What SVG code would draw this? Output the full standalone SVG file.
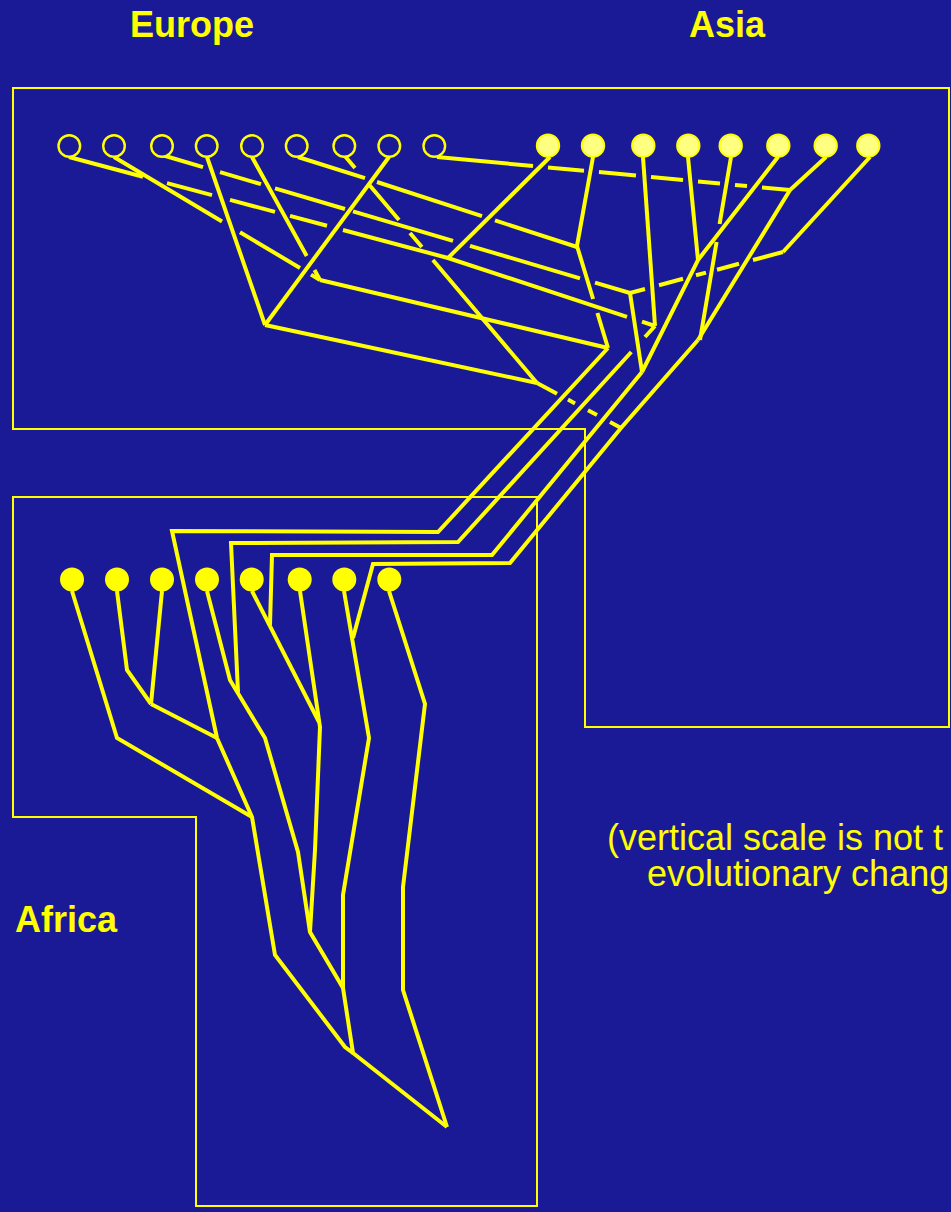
<svg xmlns="http://www.w3.org/2000/svg" width="951" height="1212" viewBox="0 0 951 1212">
  <style>
    .ln { fill: none; stroke: #ffff00; stroke-width: 4; stroke-linejoin: miter; stroke-miterlimit: 10; stroke-linecap: butt; }
    .box { fill: none; stroke: #ffff00; stroke-width: 2; }
    .eu { fill: #1a1996; stroke: #ffff00; stroke-width: 2.4; }
    .as { fill: #ffff80; stroke: #ffff00; stroke-width: 2; }
    .af { fill: #ffff00; stroke: none; }
    .lbl { font-family: "Liberation Sans", Arial, sans-serif; font-size: 36px; fill: #ffff00; }
    .bold { font-weight: bold; }
  </style>

  <rect x="0" y="0" width="951" height="1212" fill="#1a1996"/>

  <!-- region outlines -->
  <g id="regions">
    <path class="box" d="M13,88 H949 V727 H585 V429 H13 Z"/>
    <path class="box" d="M13,497 H537 V1206 H196 V817 H13 Z"/>
  </g>

  <!-- region labels and note -->
  <g id="labels">
    <text class="lbl bold" x="192" y="37" text-anchor="middle">Europe</text>
    <text class="lbl bold" x="727" y="37" text-anchor="middle">Asia</text>
    <text class="lbl bold" x="15" y="932">Africa</text>
    <text class="lbl" x="607" y="850">(vertical scale is not t</text>
    <text class="lbl" x="647" y="886">evolutionary chang</text>
  </g>

  <!-- lineages; broken runs pass behind the lines they cross -->
  <g id="connectors">
    <!-- European lineages -->
    <path class="ln" d="M69,157 L143,176.7 M167,183.1 L212,195.1 M230,199.9 L275,211.9 M290,215.9 L327,225.8 M343,230 L448,258 L627,316.8 M642,321.7 L655,326"/>
    <path class="ln" d="M114,157 L222,221.5 M240,232.2 L300,268 M311,274.6 L320,280"/>
    <path class="ln" d="M162,155 L203,167.1 M220,172.1 L261,184.2 M275,188.3 L345,209 M353,211.3 L453,240.8 M470,245.8 L580,278.3 M595,282.7 L630,293"/>
    <path class="ln" d="M207,157 L265,325"/>
    <path class="ln" d="M252,157 L306.7,256 M314.5,270 L320,280"/>
    <path class="ln" d="M298,157 L365,178.1 M377,182 L482,216.1 M495,220.4 L577,247"/>
    <path class="ln" d="M344,155 L355,168 M369.4,185 L399,220 M410,233 L421.9,247 M432.9,260 L537,383"/>
    <path class="ln" d="M389,157 L265,325"/>
    <path class="ln" d="M437,157 L533,166 M548,167.4 L584,170.7 M599,172.1 L636,175.6 M651,177 L683,180 M698,181.4 L720,183.5 M735,184.9 L747,186 M762,187.4 L790,190"/>
    <path class="ln" d="M265,325 L537,383"/>
    <path class="ln" d="M320,280 L608,348"/>

    <!-- Asian lineages -->
    <path class="ln" d="M550,157 L448,258"/>
    <path class="ln" d="M593,157 L577,246 L593.1,299 M597.4,313 L608,348"/>
    <path class="ln" d="M643,157 L655,326"/>
    <path class="ln" d="M688,157 L698,260"/>
    <path class="ln" d="M731,157 L719.6,224 M716.6,242 L700,340"/>
    <path class="ln" d="M778,157 L698,260 L642,372"/>
    <path class="ln" d="M826,157 L790,190 L698,340"/>
    <path class="ln" d="M870,157 L783,252"/>
    <path class="ln" d="M783,252 L753,260 M739,263.8 L717,269.7 M706,272.6 L696,275.3 M683,278.8 L659,285.2 M645,289 L630,293"/>
    <path class="ln" d="M630,293 L642,372"/>
    <path class="ln" d="M537,383 L557,393.7 M568,399.6 L575,403.4 M588,410.3 L597,415.1 M610,422.1 L621,428"/>

    <!-- migrations into Africa -->
    <path class="ln" d="M608,348 L438,532 L172,531 L217,738"/>
    <path class="ln" d="M655,326 L645,337 M631.3,352 L458,542 L231,543 L238,692"/>
    <path class="ln" d="M642,372 L492,555 L272,555 L270,625"/>
    <path class="ln" d="M698,340 L621,428 L510,563 L373,564 L353,638"/>

    <!-- African lineages -->
    <path class="ln" d="M72,591 L117,738 L252,817"/>
    <path class="ln" d="M117,591 L127,670 L151,704"/>
    <path class="ln" d="M162,591 L151,704"/>
    <path class="ln" d="M151,704 L217,738"/>
    <path class="ln" d="M217,738 L252,817 L275,955 L345,1047 L353,1053"/>
    <path class="ln" d="M207,591 L230,680 L265,738 L298,852 L310,932 L343,988 L353,1053 L447,1127"/>
    <path class="ln" d="M252,591 L319,722"/>
    <path class="ln" d="M300,591 L320,727 L315,850 L310,932"/>
    <path class="ln" d="M344,591 L369,738 L343,895 L343,988"/>
    <path class="ln" d="M389,591 L425,704 L403,887 L403,990 L447,1127"/>
  </g>

  <!-- European samples -->
  <g id="europe">
    <g id="eu1"><circle class="eu" cx="69.3" cy="146" r="10.8"/></g>
    <g id="eu2"><circle class="eu" cx="114" cy="146" r="10.8"/></g>
    <g id="eu3"><circle class="eu" cx="162" cy="146" r="10.8"/></g>
    <g id="eu4"><circle class="eu" cx="206.7" cy="146" r="10.8"/></g>
    <g id="eu5"><circle class="eu" cx="252" cy="146" r="10.8"/></g>
    <g id="eu6"><circle class="eu" cx="296.7" cy="146" r="10.8"/></g>
    <g id="eu7"><circle class="eu" cx="344.3" cy="146" r="10.8"/></g>
    <g id="eu8"><circle class="eu" cx="389.3" cy="146" r="10.8"/></g>
    <g id="eu9"><circle class="eu" cx="434.3" cy="146" r="10.8"/></g>
  </g>

  <!-- Asian samples -->
  <g id="asia">
    <g id="as1"><circle class="as" cx="548" cy="145.7" r="11.2"/></g>
    <g id="as2"><circle class="as" cx="593" cy="145.7" r="11.2"/></g>
    <g id="as3"><circle class="as" cx="643.3" cy="145.7" r="11.2"/></g>
    <g id="as4"><circle class="as" cx="688.3" cy="145.7" r="11.2"/></g>
    <g id="as5"><circle class="as" cx="730.7" cy="145.7" r="11.2"/></g>
    <g id="as6"><circle class="as" cx="778.3" cy="145.7" r="11.2"/></g>
    <g id="as7"><circle class="as" cx="825.7" cy="145.7" r="11.2"/></g>
    <g id="as8"><circle class="as" cx="868.3" cy="145.7" r="11.2"/></g>
  </g>

  <!-- African samples -->
  <g id="africa">
    <g id="af1"><circle class="af" cx="72" cy="579.5" r="12"/></g>
    <g id="af2"><circle class="af" cx="117" cy="579.5" r="12"/></g>
    <g id="af3"><circle class="af" cx="162" cy="579.5" r="12"/></g>
    <g id="af4"><circle class="af" cx="207" cy="579.5" r="12"/></g>
    <g id="af5"><circle class="af" cx="251.7" cy="579.5" r="12"/></g>
    <g id="af6"><circle class="af" cx="299.7" cy="579.5" r="12"/></g>
    <g id="af7"><circle class="af" cx="344.3" cy="579.5" r="12"/></g>
    <g id="af8"><circle class="af" cx="389.3" cy="579.5" r="12"/></g>
  </g>
</svg>
